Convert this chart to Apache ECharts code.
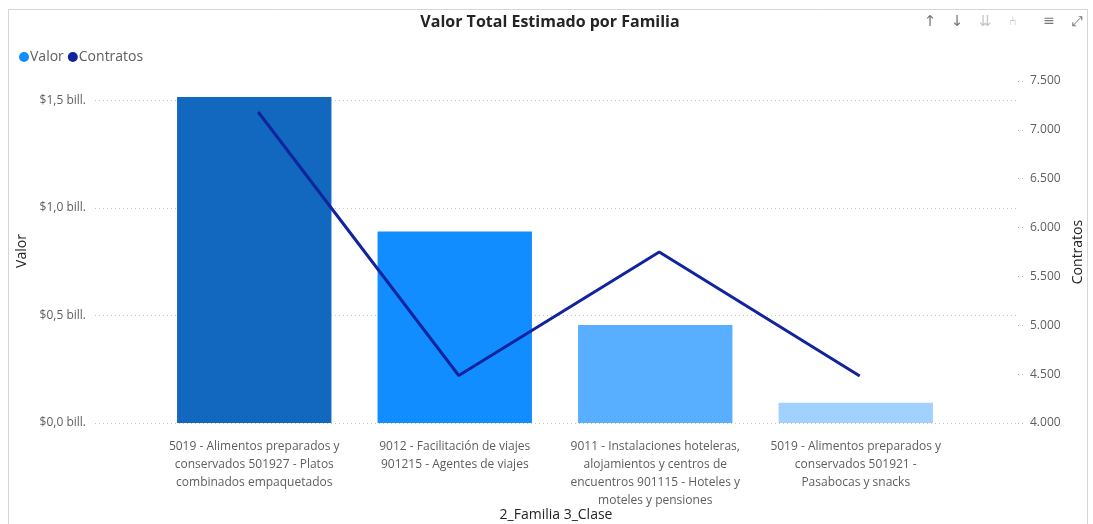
<!DOCTYPE html>
<html>
<head>
<meta charset="utf-8">
<script src="https://cdn.jsdelivr.net/npm/echarts@6/dist/echarts.min.js"></script>
<style>
html, body { margin: 0; padding: 0; background: #fff; }
#chart { width: 1093px; height: 524px; }
</style>
</head>
<body>
<div id="chart"></div>
<script>
// categorias (2_Familia 3_Clase), ya partidas en lineas como en el visual
var familias = [
  '5019 - Alimentos preparados y\nconservados 501927 - Platos\ncombinados empaquetados',
  '9012 - Facilitación de viajes\n901215 - Agentes de viajes',
  '9011 - Instalaciones hoteleras,\nalojamientos y centros de\nencuentros 901115 - Hoteles y\nmoteles y pensiones',
  '5019 - Alimentos preparados y\nconservados 501921 -\nPasabocas y snacks'
];
// valor total estimado, en billones
var valorBill = [1.516, 0.89, 0.456, 0.094];
// numero de contratos
var contratos = [7183, 4486, 5750, 4481];
var coloresBarra = ['#1168BE', '#118DFF', '#58AEFF', '#A3D1FF'];
// ejes
var valorMin = 0, valorMax = 1.59, valorPaso = 0.5;
var contMin = 4000, contMax = 7500, contPaso = 500;

var chart = echarts.init(document.getElementById('chart'));
var fuente = 'Open Sans';

function fmtValor(v) {
  if (Math.abs(v / valorPaso - Math.round(v / valorPaso)) > 1e-6) return '';
  return '$' + v.toFixed(1).replace('.', ',') + ' bill.';
}
function fmtCont(v) {
  return String(v).replace(/\B(?=(\d{3})+(?!\d))/g, '.');
}

var option = {
  animation: false,
  textStyle: { fontFamily: fuente },
  legend: {
    left: 14, top: 45,
    icon: 'circle', itemWidth: 10, itemHeight: 10, itemGap: 4,
    textStyle: { color: '#605E5C', fontSize: 14, padding: [0, 0, 0, -4] },
    data: [
      { name: 'Valor', itemStyle: { color: '#118DFF' } },
      { name: 'Contratos', itemStyle: { color: '#12239E' } }
    ]
  },
  grid: [
    { left: 154, right: 137, top: 81, bottom: 101 },
    { left: 95, right: 75, top: 81, bottom: 101 },
    // la linea va un poco corrida a la derecha, como en el original
    { left: 158, right: 133, top: 81, bottom: 101 }
  ],
  xAxis: [
    {
      type: 'category', gridIndex: 0, data: familias,
      axisLine: { show: false }, axisTick: { show: false },
      axisLabel: { interval: 0, color: '#605E5C', fontSize: 12, lineHeight: 18, margin: 15 }
    },
    { type: 'value', gridIndex: 1, min: 0, max: 1, show: false },
    { type: 'category', gridIndex: 2, data: familias, show: false }
  ],
  yAxis: [
    { type: 'value', gridIndex: 0, min: valorMin, max: valorMax, show: false, splitLine: { show: false } },
    { type: 'value', gridIndex: 2, min: contMin, max: contMax, show: false, splitLine: { show: false } },
    {
      type: 'value', gridIndex: 1, position: 'left', min: valorMin, max: valorMax, interval: valorPaso,
      axisLine: { show: false }, axisTick: { show: false },
      axisLabel: { color: '#605E5C', fontSize: 12, margin: 9, formatter: fmtValor, showMaxLabel: false },
      splitLine: { show: true, showMaxLine: false, lineStyle: { color: '#C8C6C4', type: [1, 3], width: 1 } }
    },
    {
      type: 'value', gridIndex: 1, position: 'right', min: contMin, max: contMax, interval: contPaso,
      axisLine: { show: false },
      axisTick: { show: true, inside: false, length: 5, lineStyle: { color: '#B3B0AD', type: [1, 3] } },
      axisLabel: { color: '#605E5C', fontSize: 12, margin: 12, formatter: fmtCont },
      splitLine: { show: false }
    }
  ],
  series: [
    {
      name: 'Valor', type: 'bar', xAxisIndex: 0, yAxisIndex: 0,
      barCategoryGap: '23%',
      itemStyle: { color: '#118DFF' },
      data: valorBill.map(function (v, i) {
        return { value: v, itemStyle: { color: coloresBarra[i] } };
      })
    },
    {
      name: 'Contratos', type: 'line', xAxisIndex: 2, yAxisIndex: 1,
      symbol: 'none', lineStyle: { color: '#12239E', width: 3 },
      itemStyle: { color: '#12239E' },
      data: contratos
    }
  ],
  graphic: [
    { type: 'rect', shape: { x: 8.5, y: 9.5, width: 1079, height: 540 },
      style: { fill: 'none', stroke: '#D6D6D6', lineWidth: 1 }, silent: true },
    { type: 'text', x: 550, y: 22, style: { text: 'Valor Total Estimado por Familia', fontFamily: fuente,
      fontSize: 16, fontWeight: 'bold', fill: '#252423', align: 'center', verticalAlign: 'middle' } },
    { type: 'text', x: 556, y: 515, style: { text: '2_Familia 3_Clase', fontFamily: fuente,
      fontSize: 14, fill: '#252423', align: 'center', verticalAlign: 'middle' } },
    { type: 'text', x: 22, y: 251, rotation: Math.PI / 2, style: { text: 'Valor', fontFamily: fuente,
      fontSize: 14, fill: '#252423', align: 'center', verticalAlign: 'middle' } },
    { type: 'text', x: 1078, y: 252, rotation: Math.PI / 2, style: { text: 'Contratos', fontFamily: fuente,
      fontSize: 14, fill: '#252423', align: 'center', verticalAlign: 'middle' } },
    // iconos de la barra del visual
    { type: 'text', x: 930, y: 22, style: { text: '↑', fontFamily: 'DejaVu Sans', fontSize: 15, fill: '#7A7774', align: 'center', verticalAlign: 'middle' } },
    { type: 'text', x: 957, y: 22, style: { text: '↓', fontFamily: 'DejaVu Sans', fontSize: 15, fill: '#7A7774', align: 'center', verticalAlign: 'middle' } },
    { type: 'text', x: 985, y: 22, style: { text: '⇊', fontFamily: 'DejaVu Sans', fontSize: 15, fill: '#C8C6C4', align: 'center', verticalAlign: 'middle' } },
    { type: 'text', x: 1013, y: 22, style: { text: '⑃', fontFamily: 'DejaVu Sans', fontSize: 13, fill: '#C8C6C4', align: 'center', verticalAlign: 'middle' } },
    { type: 'text', x: 1049, y: 21, style: { text: '≡', fontFamily: 'DejaVu Sans', fontSize: 14, fill: '#7A7774', align: 'center', verticalAlign: 'middle' } },
    { type: 'text', x: 1077, y: 22, style: { text: '⤢', fontFamily: 'DejaVu Sans', fontSize: 14, fill: '#7A7774', align: 'center', verticalAlign: 'middle' } }
  ]
};
chart.setOption(option);
</script>
</body>
</html>
